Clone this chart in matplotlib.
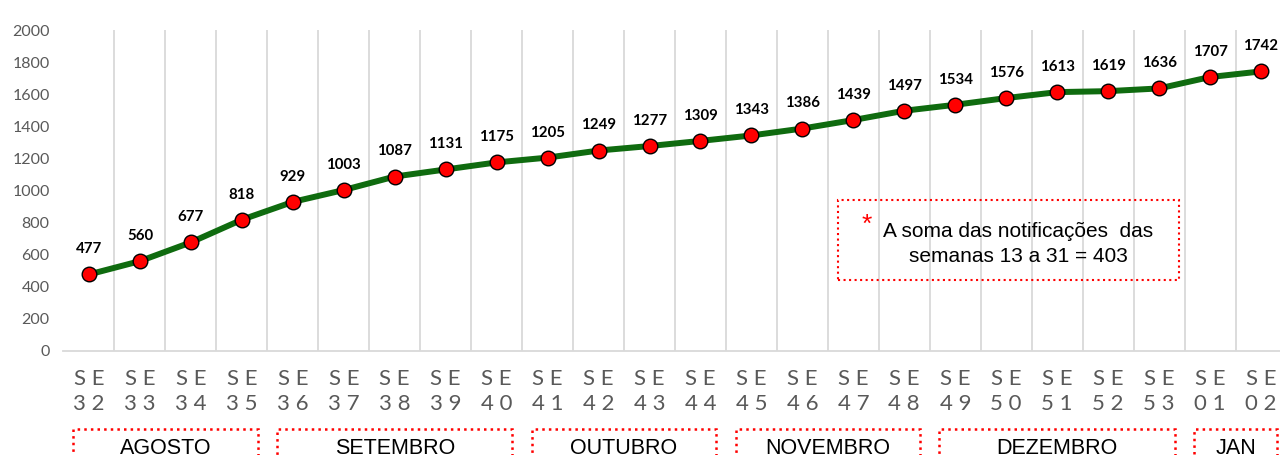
import matplotlib
matplotlib.use("Agg")
import matplotlib.pyplot as plt
from matplotlib.patches import Rectangle
import matplotlib.transforms as mtransforms
import numpy as np

weeks = ["32","33","34","35","36","37","38","39","40","41","42","43","44",
         "45","46","47","48","49","50","51","52","53","01","02"]
values = [477,560,677,818,929,1003,1087,1131,1175,1205,1249,1277,1309,
          1343,1386,1439,1497,1534,1576,1613,1619,1636,1707,1742]
months = ["AGOSTO","SETEMBRO","OUTUBRO","NOVEMBRO","DEZEMBRO","JAN"]
month_weeks = [4,5,4,4,5,2]
note = "A soma das notificações  das\nsemanas 13 a 31 = 403"

W, H = 1280, 455
fig = plt.figure(figsize=(W/100, H/100), dpi=100)
ax = fig.add_axes([63.5/W, (H-351)/H, 1223/W, 321/H])

x = np.arange(len(values))
ax.plot(x, values, color="#0f6b0f", lw=4.3, zorder=3,
        marker="o", markersize=10.5, markerfacecolor="#ff0000",
        markeredgecolor="black", markeredgewidth=1.0)
for xi, v in zip(x, values):
    ax.annotate(str(v), (xi, v), xytext=(0, 13), textcoords="offset points",
                ha="center", va="bottom", fontsize=10.8, fontweight="bold",
                family="Lato", color="black")

ax.set_xlim(-0.5, len(values)-0.5)
ax.set_ylim(0, 2000)
ax.set_yticks(np.arange(0, 2001, 200))
ax.set_xticks(x)
ax.set_xticklabels(["S E\n" + " ".join(w) for w in weeks], linespacing=1.3)
ax.set_xticks(np.arange(-0.5, len(values), 1), minor=True)
ax.grid(which="minor", axis="x", color="#d9d9d9", lw=1.3)
ax.tick_params(axis="x", which="both", length=0, pad=13, labelsize=16,
               labelcolor="#595959")
ax.tick_params(axis="y", length=0, pad=10, labelsize=11.5, labelcolor="#595959")
for lab in ax.get_xticklabels() + ax.get_yticklabels():
    lab.set_family("Lato")
for s in ["top", "right", "left"]:
    ax.spines[s].set_visible(False)
ax.spines["bottom"].set_color("#d9d9d9")
ax.spines["bottom"].set_linewidth(1.3)

# month boxes
trans = mtransforms.blended_transform_factory(ax.transData, ax.transAxes)
start = -0.5
for name, n in zip(months, month_weeks):
    x0 = start + 0.19
    x1 = start + n - 0.19
    ax.add_patch(Rectangle((x0, -0.42), x1 - x0, 0.177, transform=trans,
                           fill=False, edgecolor="#ff0000", ls=":", lw=1.8,
                           clip_on=False))
    ax.text((x0 + x1) / 2, -0.322, name, transform=trans, ha="center",
            va="baseline", fontsize=15.5, family="Liberation Sans",
            color="black", clip_on=False)
    start += n

# note box
fig.patches.append(Rectangle((838/W, (H-280)/H), 341/W, 80/H,
                             transform=fig.transFigure, fill=False,
                             edgecolor="#ff0000", ls=":", lw=1.5))
fig.text(1018/W, (H-244)/H, note, ha="center", va="center", fontsize=15,
         family="Liberation Sans", color="black", linespacing=1.35)
fig.text(867/W, (H-225)/H, "*", ha="center", va="center", fontsize=19,
         family="Liberation Sans", color="#ff0000")

fig.savefig("out.png", dpi=100)
